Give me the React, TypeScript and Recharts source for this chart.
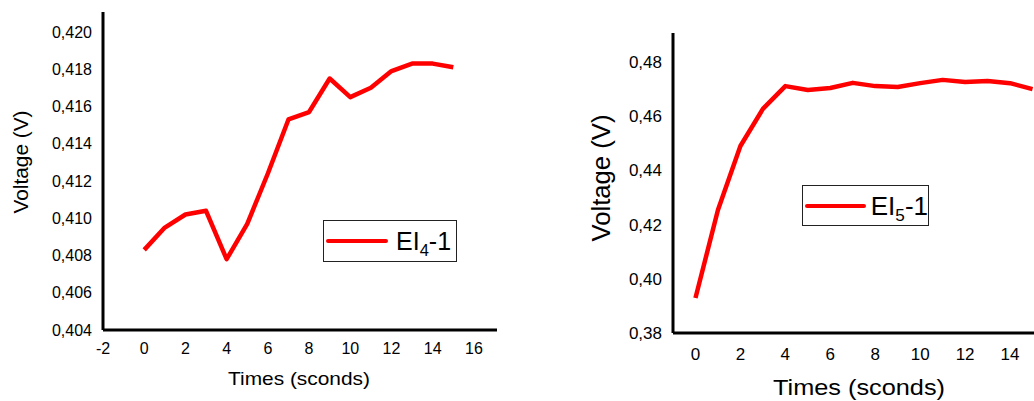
import React from 'react';
import { LineChart, Line, XAxis, YAxis, Legend, Label } from 'recharts';

// seconds
const timesEI4 = [0, 1, 2, 3, 4, 5, 6, 7, 8, 9, 10, 11, 12, 13, 14, 15];
const voltageEI4 = [0.4083, 0.4095, 0.4102, 0.4104, 0.4078, 0.4097, 0.4124, 0.4153, 0.4157, 0.4175, 0.4165, 0.417, 0.4179, 0.4183, 0.4183, 0.4181];

const timesEI5 = [0, 1, 2, 3, 4, 5, 6, 7, 8, 9, 10, 11, 12, 13, 14, 15];
const voltageEI5 = [0.3929, 0.4254, 0.449, 0.4627, 0.4711, 0.4697, 0.4704, 0.4723, 0.4711, 0.4708, 0.4722, 0.4734, 0.4726, 0.473, 0.4722, 0.47];

const xTicksLeft = [-2, 0, 2, 4, 6, 8, 10, 12, 14, 16];
const yTicksLeft = [0.404, 0.406, 0.408, 0.41, 0.412, 0.414, 0.416, 0.418, 0.42];
const xTicksRight = [0, 2, 4, 6, 8, 10, 12, 14];
const yTicksRight = [0.38, 0.4, 0.42, 0.44, 0.46, 0.48];

const FONT = '"Liberation Sans", Arial, Helvetica, sans-serif';
const RED = '#ff0000';

const dataEI4 = timesEI4.map((t, i) => ({ t, v: voltageEI4[i] }));
const dataEI5 = timesEI5.map((t, i) => ({ t, v: voltageEI5[i] }));

const AxisTitle = ({ x, y, text, size, length, rotate }: any) => (
  <text
    x={x}
    y={y}
    textAnchor="middle"
    fontSize={size}
    fontFamily={FONT}
    fill="#000"
    textLength={length}
    lengthAdjust="spacingAndGlyphs"
    transform={rotate ? `rotate(-90, ${x}, ${y})` : undefined}
  >
    {text}
  </text>
);

const LegendBox = ({ payload, sub, fontSize, gap }: any) => (
  <div
    style={{
      display: 'flex',
      alignItems: 'center',
      width: '100%',
      height: '100%',
      boxSizing: 'border-box',
      border: '1px solid #222',
      background: '#fff',
      fontFamily: FONT,
      color: '#000',
    }}
  >
    <div style={{ width: 62, height: 4, marginLeft: 2, borderRadius: 2, background: payload?.[0]?.color || RED }} />
    <span style={{ fontSize, lineHeight: 1, marginLeft: gap }}>
      EI<sub style={{ fontSize: fontSize * 0.66, lineHeight: 0 }}>{sub}</sub>-1
    </span>
  </div>
);

const tickStyle = (size: number) => ({ fontSize: size, fill: '#000', fontFamily: FONT });
const axisLine = { stroke: '#000', strokeWidth: 3 };

export default function App() {
  return (
    <div style={{ position: 'absolute', left: 0, top: 0, width: 1034, height: 401, overflow: 'hidden', background: '#fff' }}>
      <div style={{ position: 'absolute', left: 0, top: 0 }}>
        <LineChart width={520} height={401} data={dataEI4} margin={{ top: 12, right: 23, bottom: 0, left: 0 }}>
          <XAxis
            dataKey="t"
            type="number"
            domain={[-2, 17.12]}
            ticks={xTicksLeft}
            interval={0}
            height={71}
            tickLine={false}
            tickSize={0}
            tickMargin={13}
            axisLine={axisLine}
            tick={tickStyle(16)}
          >
            <Label content={() => <AxisTitle x={299} y={385} text="Times (sconds)" size={19} length={142} />} />
          </XAxis>
          <YAxis
            type="number"
            domain={[0.404, 0.42107]}
            ticks={yTicksLeft}
            interval={0}
            width={103}
            tickLine={false}
            tickSize={0}
            tickMargin={11}
            axisLine={axisLine}
            tick={tickStyle(16)}
            tickFormatter={(v: number) => v.toFixed(3).replace('.', ',')}
          >
            <Label content={() => <AxisTitle x={28} y={162} text="Voltage (V)" size={21} length={103} rotate />} />
          </YAxis>
          <Legend
            layout="vertical"
            align="center"
            verticalAlign="middle"
            wrapperStyle={{ left: 323, top: 220, width: 134, height: 42 }}
            content={(p: any) => <LegendBox payload={p.payload} sub="4" fontSize={25} gap={8} />}
          />
          <Line
            dataKey="v"
            name="EI4-1"
            type="linear"
            stroke={RED}
            strokeWidth={4.5}
            strokeLinejoin="round"
            dot={false}
            isAnimationActive={false}
          />
        </LineChart>
      </div>

      <div style={{ position: 'absolute', left: 560, top: 0 }}>
        <LineChart width={500} height={401} data={dataEI5} margin={{ top: 33, right: 5, bottom: 0, left: 0 }}>
          <XAxis
            dataKey="t"
            type="number"
            domain={[-1, 16]}
            ticks={xTicksRight}
            interval={0}
            height={68}
            tickLine={false}
            tickSize={0}
            tickMargin={15}
            axisLine={axisLine}
            tick={tickStyle(17)}
          >
            <Label content={() => <AxisTitle x={299} y={395} text="Times (sconds)" size={22} length={172} />} />
          </XAxis>
          <YAxis
            type="number"
            domain={[0.38, 0.4907]}
            ticks={yTicksRight}
            interval={0}
            width={113}
            tickLine={false}
            tickSize={0}
            tickMargin={11}
            axisLine={axisLine}
            tick={tickStyle(17)}
            tickFormatter={(v: number) => v.toFixed(2).replace('.', ',')}
          >
            <Label content={() => <AxisTitle x={50} y={178} text="Voltage (V)" size={25} length={127} rotate />} />
          </YAxis>
          <Legend
            layout="vertical"
            align="center"
            verticalAlign="middle"
            wrapperStyle={{ left: 242, top: 185, width: 127, height: 41 }}
            content={(p: any) => <LegendBox payload={p.payload} sub="5" fontSize={26} gap={5} />}
          />
          <Line
            dataKey="v"
            name="EI5-1"
            type="linear"
            stroke={RED}
            strokeWidth={4.5}
            strokeLinejoin="round"
            dot={false}
            isAnimationActive={false}
          />
        </LineChart>
      </div>
    </div>
  );
}
